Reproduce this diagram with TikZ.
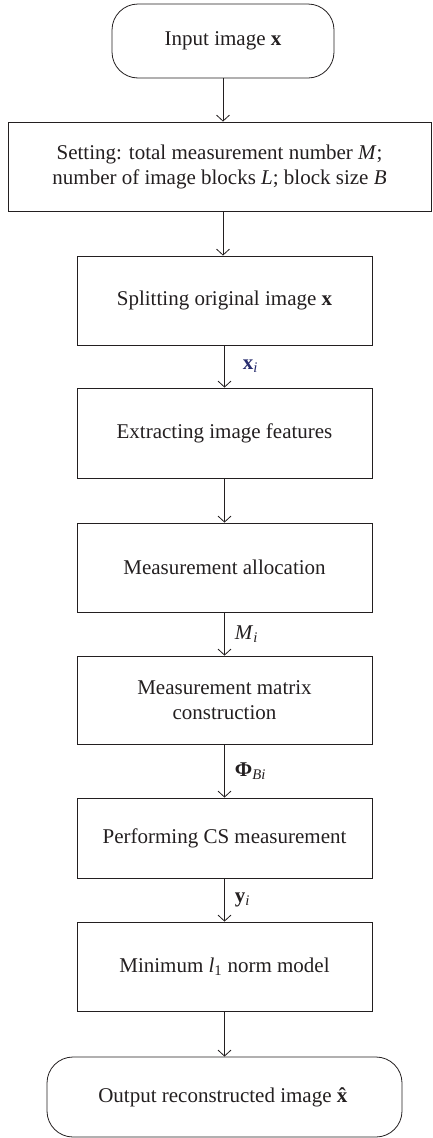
\documentclass[tikz,border=0pt]{standalone}
\usepackage{fontspec}
\setmainfont{Liberation Serif}
\usetikzlibrary{arrows.meta}
\definecolor{navy}{RGB}{40,45,110}
\definecolor{ink}{RGB}{35,31,32}
\newcommand{\sub}[1]{\textsubscript{\textit{#1}}}
\begin{document}
\begin{tikzpicture}[x=1pt,y=-1pt,
  font=\fontsize{21}{25}\selectfont, color=ink,
  box/.style={draw, line width=0.8pt, inner sep=0pt, align=center, minimum width=295pt, minimum height=89pt},
  term/.style={draw, line width=0.8pt, rounded corners=26pt, inner sep=0pt, align=center},
  flow/.style={line width=0.8pt, -{Straight Barb[length=6pt,width=13pt,line width=0.8pt]}},
  lab/.style={right, inner sep=0pt}]
\useasboundingbox (0,0) rectangle (432,1138);
\node[term, minimum width=222pt, minimum height=74pt] (in) at (223,41) {Input image \textbf{x}};
\node[box, minimum width=423pt] (set) at (219.5,166.5) {Setting: total measurement number \textit{M};\\ number of image blocks \textit{L}; block size \textit{B}};
\node[box] (split) at (224.5,300.5) {Splitting original image \textbf{x}};
\node[box, minimum height=90pt] (extr) at (224.5,433) {Extracting image features};
\node[box] (alloc) at (224.5,567.5) {Measurement allocation};
\node[box, minimum height=88pt] (mat) at (224.5,700) {Measurement matrix\\ construction};
\node[box, minimum height=80pt] (cs) at (224.5,838) {Performing CS measurement};
\node[box] (minm) at (224.5,966.5) {Minimum \textit{l}\textsubscript{1} norm model};
\node[term, minimum width=355pt, minimum height=80pt] (out) at (224.5,1097) {Output reconstructed image \textbf{x̂}};
\draw[flow] (in.south) -- (in.south |- set.north);
\draw[flow] (in.south |- set.south) -- (in.south |- split.north);
\draw[flow] (split) -- (extr) node[lab, midway, xshift=18pt, text=navy] {\textbf{x}\sub{i}};
\draw[flow] (extr) -- (alloc);
\draw[flow] (alloc) -- (mat) node[lab, midway, xshift=10pt] {\textit{M}\sub{i}};
\draw[flow] (mat) -- (cs) node[lab, midway, xshift=10pt] {\textbf{Φ}\sub{Bi}};
\draw[flow] (cs) -- (minm) node[lab, midway, xshift=10pt] {\textbf{y}\sub{i}};
\draw[flow] (minm) -- (out);
\end{tikzpicture}
\end{document}
